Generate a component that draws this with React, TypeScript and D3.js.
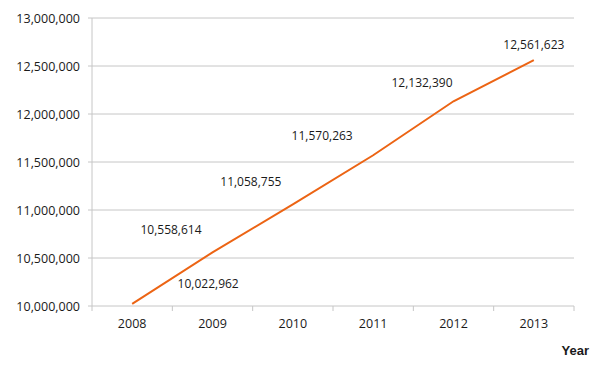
import { useEffect, useRef } from "react";
import * as d3 from "d3";

const years = ["2008", "2009", "2010", "2011", "2012", "2013"];
const population = [10022962, 10558614, 11058755, 11570263, 12132390, 12561623];
const yTicks = [10000000, 10500000, 11000000, 11500000, 12000000, 12500000, 13000000];
// where each value label sits, relative to its point
const labelOffsets: [number, number][] = [
  [76, -20.5], [-41.5, -22.4], [-42, -22.7], [-51, -19.6], [-31.5, -19], [0, -16],
];

export default function App() {
  const svgRef = useRef<SVGSVGElement>(null);

  useEffect(() => {
    const width = 600;
    const height = 365;
    const margin = { top: 18, right: 26, bottom: 59, left: 92 };

    const svg = d3.select(svgRef.current);
    svg.selectAll("*").remove();

    const x = d3.scaleBand()
      .domain(years)
      .range([margin.left, width - margin.right]);

    const y = d3.scaleLinear()
      .domain([10000000, 13000000])
      .range([height - margin.bottom, margin.top]);

    const fmt = d3.format(",");
    const font = "'Open Sans', sans-serif";
    const grey = "#c6c6c6";
    const ink = "#1a1a1a";

    // gridlines
    svg.append("g")
      .selectAll("line")
      .data(yTicks)
      .enter()
      .append("line")
      .attr("x1", margin.left - 4)
      .attr("x2", width - margin.right)
      .attr("y1", d => y(d))
      .attr("y2", d => y(d))
      .attr("stroke", grey)
      .attr("stroke-width", 1);

    // y axis line
    svg.append("line")
      .attr("x1", margin.left)
      .attr("x2", margin.left)
      .attr("y1", margin.top)
      .attr("y2", height - margin.bottom)
      .attr("stroke", grey);

    // y labels
    svg.append("g")
      .selectAll("text")
      .data(yTicks)
      .enter()
      .append("text")
      .attr("x", margin.left - 12)
      .attr("y", d => y(d) + 4.5)
      .attr("text-anchor", "end")
      .attr("font-family", font)
      .attr("font-size", 12.5)
      .attr("fill", ink)
      .text(d => fmt(d));

    // x tick marks
    const edges = years.map(d => x(d)!).concat([x.range()[1]]);
    svg.append("g")
      .selectAll("line")
      .data(edges)
      .enter()
      .append("line")
      .attr("x1", d => d)
      .attr("x2", d => d)
      .attr("y1", height - margin.bottom)
      .attr("y2", height - margin.bottom + 5)
      .attr("stroke", grey);

    // x labels
    svg.append("g")
      .selectAll("text")
      .data(years)
      .enter()
      .append("text")
      .attr("x", d => x(d)! + x.bandwidth() / 2)
      .attr("y", height - margin.bottom + 21.5)
      .attr("text-anchor", "middle")
      .attr("font-family", font)
      .attr("font-size", 12.5)
      .attr("fill", ink)
      .text(d => d);

    svg.append("text")
      .attr("x", 589)
      .attr("y", 355)
      .attr("text-anchor", "end")
      .attr("font-family", "'Liberation Sans', Arial, sans-serif")
      .attr("font-weight", "bold")
      .attr("font-size", 13)
      .attr("fill", ink)
      .text("Year");

    const line = d3.line<number>()
      .x((_, i) => x(years[i])! + x.bandwidth() / 2)
      .y(d => y(d));

    svg.append("path")
      .datum(population)
      .attr("d", line)
      .attr("fill", "none")
      .attr("stroke", "#ec6414")
      .attr("stroke-width", 2);

    // value labels
    svg.append("g")
      .selectAll("text")
      .data(population)
      .enter()
      .append("text")
      .attr("x", (_, i) => x(years[i])! + x.bandwidth() / 2 + labelOffsets[i][0])
      .attr("y", (d, i) => y(d) + labelOffsets[i][1] + 4.5)
      .attr("text-anchor", "middle")
      .attr("font-family", font)
      .attr("font-size", 12)
      .attr("fill", ink)
      .text(d => fmt(d));
  }, []);

  return (
    <svg
      ref={svgRef}
      width={600}
      height={365}
      style={{ position: "absolute", left: 0, top: 0, background: "#fff" }}
    />
  );
}
